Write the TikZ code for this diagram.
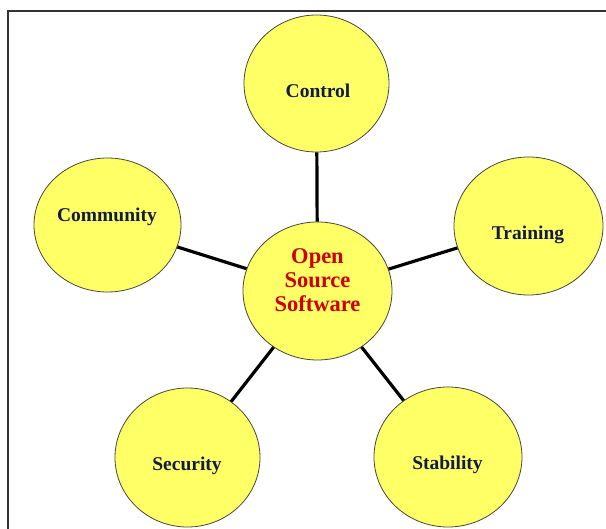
\documentclass[tikz,border=0pt]{standalone}
\usepackage{fontspec}
\setmainfont{Liberation Serif}
\usetikzlibrary{shapes.geometric}
\definecolor{bubblefill}{RGB}{255,255,102}
\definecolor{bubbleedge}{RGB}{70,70,60}
\definecolor{labelnavy}{RGB}{18,26,70}
\definecolor{hubred}{RGB}{204,0,0}
\begin{document}
\begin{tikzpicture}[x=1pt,y=-1pt,
  bubble/.style={ellipse,draw=bubbleedge,line width=0.8pt,fill=bubblefill,inner sep=0pt},
  spoke/.style={line width=3.2pt,black},
  tag/.style={font=\fontsize{19.5}{22}\selectfont\bfseries,text=labelnavy,inner sep=0pt,anchor=base},
  hubtag/.style={font=\fontsize{22.5}{24}\selectfont\bfseries,text=hubred,align=center,inner sep=0pt}]
  \useasboundingbox (0,0) rectangle (606,529);
  % frame edges
  \draw[line width=1.3pt,black!80] (8,529) -- (8,11) -- (606,11);
  % bubbles
  \node[bubble,minimum width=149pt,minimum height=138pt] (hub) at (317.5,291) {};
  \node[bubble,minimum width=145pt,minimum height=137pt] (control) at (316.5,83.5) {};
  \node[bubble,minimum width=149pt,minimum height=138pt] (training) at (528.5,226) {};
  \node[bubble,minimum width=147pt,minimum height=134pt] (community) at (107.5,225) {};
  \node[bubble,minimum width=145pt,minimum height=139pt] (security) at (187.5,457.5) {};
  \node[bubble,minimum width=148pt,minimum height=140pt] (stability) at (448,457) {};
  % spokes
  \draw[spoke] (hub) -- (control);
  \draw[spoke] (hub) -- (training);
  \draw[spoke] (hub) -- (community);
  \draw[spoke] (hub) -- (security);
  \draw[spoke] (hub) -- (stability);
  % labels
  \node[hubtag] (hubtext) at (317.5,280) {Open\\Source\\Software};
  \node[tag] (controltext) at (318,98) {Control};
  \node[tag] (trainingtext) at (528,240) {Training};
  \node[tag] (communitytext) at (107,222) {Community};
  \node[tag] (securitytext) at (187,471) {Security};
  \node[tag] (stabilitytext) at (447.5,470) {Stability};
\end{tikzpicture}
\end{document}
